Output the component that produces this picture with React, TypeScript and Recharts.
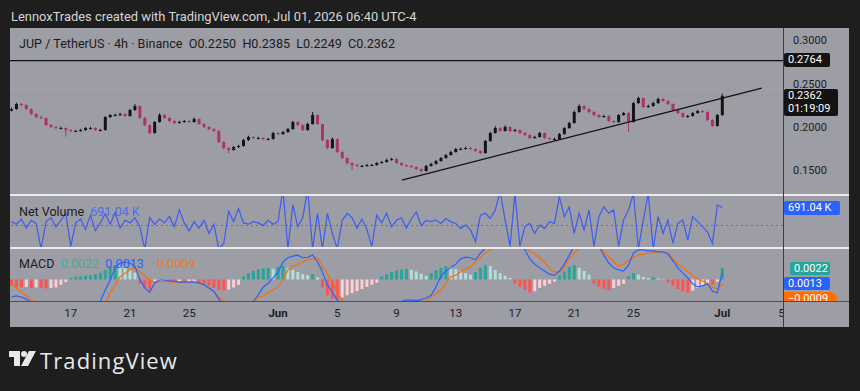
import React from 'react';
import { ComposedChart, Bar, Line, XAxis, YAxis, ReferenceLine, Cell } from 'recharts';

// ---------- DATA (8h bars, index 0 = May 13 00:00, 3 bars per day) ----------
const closes = [
  0.2207,0.2265,0.2253,0.2207,0.2150,0.2115,0.2104,0.2023,0.2000,0.1988,
  0.1988,0.1965,0.1954,0.1954,0.1965,0.1988,0.1988,0.1965,0.1965,0.2115,
  0.2138,0.2138,0.2150,0.2127,0.2196,0.2242,0.2104,0.2023,0.1931,0.2058,
  0.2138,0.2104,0.2069,0.2046,0.2058,0.2069,0.2058,0.2092,0.2035,0.2000,
  0.1977,0.1954,0.1827,0.1758,0.1735,0.1770,0.1781,0.1850,0.1885,0.1873,
  0.1873,0.1862,0.1862,0.1931,0.1919,0.1942,0.1977,0.2058,0.2023,0.1965,
  0.2035,0.2138,0.2035,0.1850,0.1758,0.1862,0.1712,0.1643,0.1585,0.1562,
  0.1551,0.1551,0.1562,0.1562,0.1585,0.1597,0.1620,0.1631,0.1585,0.1562,
  0.1551,0.1539,0.1516,0.1493,0.1551,0.1574,0.1608,0.1643,0.1677,0.1712,
  0.1747,0.1747,0.1758,0.1747,0.1724,0.1700,0.1839,0.1931,0.1988,0.1954,
  0.2000,0.1954,0.1965,0.1931,0.1908,0.1873,0.1885,0.1931,0.1873,0.1862,
  0.1862,0.1919,0.1988,0.2046,0.2173,0.2242,0.2207,0.2173,0.2138,0.2115,
  0.2127,0.2069,0.2058,0.2138,0.2161,0.2058,0.2276,0.2334,0.2230,0.2242,
  0.2276,0.2323,0.2300,0.2265,0.2196,0.2161,0.2115,0.2127,0.2161,0.2184,
  0.2173,0.2081,0.2012,0.2138,0.2362,
];
const firstOpen = 0.2190;
const highs = [
  0.2225,0.2280,0.2278,0.2262,0.2215,0.2160,0.2130,0.2110,0.2035,0.2012,
  0.2005,0.1995,0.1975,0.1968,0.1980,0.2000,0.2002,0.1995,0.1978,0.2125,
  0.2150,0.2155,0.2165,0.2160,0.2210,0.2265,0.2250,0.2115,0.2030,0.2070,
  0.2160,0.2150,0.2115,0.2080,0.2072,0.2082,0.2078,0.2110,0.2100,0.2045,
  0.2010,0.1985,0.1962,0.1835,0.1770,0.1782,0.1795,0.1865,0.1900,0.1895,
  0.1888,0.1882,0.1875,0.1945,0.1942,0.1955,0.1990,0.2072,0.2068,0.2030,
  0.2050,0.2175,0.2145,0.2040,0.1860,0.1880,0.1870,0.1720,0.1650,0.1595,
  0.1575,0.1565,0.1575,0.1575,0.1598,0.1610,0.1635,0.1645,0.1640,0.1595,
  0.1572,0.1562,0.1548,0.1525,0.1562,0.1588,0.1620,0.1655,0.1690,0.1728,
  0.1760,0.1765,0.1772,0.1768,0.1755,0.1732,0.1850,0.1945,0.2010,0.1998,
  0.2020,0.2008,0.1980,0.1972,0.1942,0.1915,0.1898,0.1945,0.1938,0.1882,
  0.1878,0.1932,0.2000,0.2060,0.2190,0.2262,0.2255,0.2218,0.2182,0.2148,
  0.2140,0.2135,0.2080,0.2150,0.2175,0.2170,0.2290,0.2350,0.2340,0.2258,
  0.2292,0.2340,0.2335,0.2310,0.2272,0.2205,0.2170,0.2140,0.2175,0.2198,
  0.2195,0.2180,0.2090,0.2150,0.2385,
];
const lows = [
  0.2180,0.2200,0.2240,0.2195,0.2140,0.2100,0.2090,0.2010,0.1990,0.1975,
  0.1975,0.1890,0.1940,0.1942,0.1945,0.1958,0.1975,0.1955,0.1952,0.1960,
  0.2105,0.2125,0.2128,0.2115,0.2120,0.2185,0.2095,0.2010,0.1915,0.1925,
  0.2050,0.2095,0.2060,0.2035,0.2038,0.2050,0.2048,0.2050,0.2025,0.1990,
  0.1965,0.1940,0.1815,0.1745,0.1700,0.1728,0.1760,0.1775,0.1840,0.1862,
  0.1860,0.1850,0.1848,0.1855,0.1908,0.1910,0.1935,0.1970,0.2012,0.1955,
  0.1958,0.2028,0.2025,0.1838,0.1745,0.1750,0.1700,0.1630,0.1570,0.1505,
  0.1540,0.1538,0.1542,0.1550,0.1555,0.1578,0.1590,0.1612,0.1575,0.1552,
  0.1540,0.1528,0.1505,0.1475,0.1488,0.1545,0.1568,0.1600,0.1635,0.1670,
  0.1705,0.1735,0.1740,0.1738,0.1715,0.1690,0.1695,0.1830,0.1925,0.1945,
  0.1948,0.1942,0.1945,0.1920,0.1898,0.1862,0.1865,0.1878,0.1865,0.1850,
  0.1852,0.1855,0.1912,0.1980,0.2040,0.2165,0.2198,0.2162,0.2128,0.2105,
  0.2108,0.2060,0.2048,0.2050,0.2130,0.1942,0.2050,0.2268,0.2220,0.2222,
  0.2235,0.2268,0.2290,0.2255,0.2185,0.2150,0.2105,0.2108,0.2120,0.2155,
  0.2165,0.2070,0.2000,0.2005,0.2130,
];
// Net volume, in millions
const netVolume = [
  0.15,0.05,0.25,-0.10,0.20,0.08,-0.90,0.15,0.30,-0.05,
  0.20,0.47,-0.80,0.10,0.25,-0.15,0.40,-0.20,0.10,0.45,
  0.05,0.50,-0.10,0.20,0.10,0.30,-0.05,-0.90,0.30,0.05,
  0.25,0.10,0.35,-0.05,0.60,0.10,-0.20,0.15,-0.10,0.20,
  -0.30,0.05,-0.90,-0.70,0.55,0.15,0.65,0.10,0.05,0.15,
  0.10,0.00,0.20,0.05,0.15,1.40,-0.90,0.80,-0.05,0.30,
  1.40,-0.90,0.47,-0.90,0.47,-0.30,-0.90,0.20,0.47,0.30,
  -0.10,0.25,-0.15,-0.80,0.40,0.10,0.47,-0.05,0.20,0.30,
  -0.10,0.25,0.53,0.00,0.20,0.15,0.21,0.08,0.27,0.15,
  0.08,-0.11,0.02,-0.17,-0.62,0.40,0.47,0.27,0.60,1.30,
  0.21,-0.80,1.24,-0.80,-0.04,0.08,-0.30,0.02,-0.11,0.15,
  0.08,1.11,0.34,0.72,-0.30,0.47,-0.17,0.60,-0.80,0.34,
  0.72,0.47,0.60,-0.80,0.21,0.60,1.24,-0.90,0.21,1.24,
  -0.90,0.34,-0.30,0.21,-0.69,0.08,0.21,-0.56,0.34,0.15,
  -0.04,-0.24,-0.69,0.79,0.691,
];
const macdLine = [
  -0.0033,-0.0031,-0.0033,-0.0037,-0.0044,-0.0050,-0.0055,-0.0060,-0.0064,-0.0066,
  -0.0067,-0.0067,-0.0066,-0.0064,-0.0061,-0.0057,-0.0053,-0.0049,-0.0041,-0.0020,
  -0.0001,0.0022,0.0031,0.0033,0.0031,0.0025,0.0001,-0.0016,-0.0024,-0.0007,
  -0.0001,-0.0001,-0.0003,-0.0003,-0.0005,-0.0005,-0.0005,-0.0005,-0.0007,-0.0010,
  -0.0016,-0.0022,-0.0037,-0.0048,-0.0058,-0.0063,-0.0064,-0.0060,-0.0050,-0.0041,
  -0.0029,-0.0014,-0.0007,0.0003,0.0014,0.0033,0.0041,0.0044,0.0046,0.0041,
  0.0042,0.0046,0.0033,0.0014,-0.0010,-0.0024,-0.0039,-0.0048,-0.0056,-0.0063,
  -0.0068,-0.0070,-0.0070,-0.0068,-0.0065,-0.0061,-0.0057,-0.0052,-0.0045,-0.0041,
  -0.0039,-0.0039,-0.0040,-0.0038,-0.0035,-0.0030,-0.0014,0.0007,0.0016,0.0022,
  0.0029,0.0039,0.0042,0.0041,0.0037,0.0050,0.0059,0.0068,0.0076,0.0080,
  0.0082,0.0078,0.0070,0.0065,0.0056,0.0039,0.0029,0.0022,0.0016,0.0010,
  0.0008,0.0016,0.0029,0.0046,0.0063,0.0075,0.0080,0.0078,0.0072,0.0064,
  0.0046,0.0031,0.0022,0.0018,0.0016,0.0027,0.0050,0.0056,0.0056,0.0054,
  0.0054,0.0052,0.0052,0.0048,0.0035,0.0022,0.0012,0.0003,-0.0008,-0.0014,
  -0.0012,-0.0008,-0.0022,-0.0025,0.0013,
];
const signalLine = [
  -0.0007,-0.0016,-0.0024,-0.0031,-0.0039,-0.0043,-0.0046,-0.0049,-0.0052,-0.0055,
  -0.0057,-0.0059,-0.0060,-0.0061,-0.0061,-0.0060,-0.0058,-0.0056,-0.0052,-0.0045,
  -0.0025,-0.0010,0.0005,0.0012,0.0018,0.0022,0.0014,0.0007,-0.0001,-0.0005,
  -0.0004,-0.0003,-0.0004,-0.0005,-0.0005,-0.0005,-0.0005,-0.0005,-0.0006,-0.0010,
  -0.0016,-0.0024,-0.0033,-0.0040,-0.0046,-0.0050,-0.0053,-0.0052,-0.0047,-0.0040,
  -0.0034,-0.0031,-0.0025,-0.0020,-0.0014,-0.0001,0.0018,0.0025,0.0029,0.0033,
  0.0037,0.0039,0.0041,0.0025,0.0010,-0.0005,-0.0024,-0.0039,-0.0045,-0.0051,
  -0.0056,-0.0060,-0.0063,-0.0064,-0.0064,-0.0063,-0.0061,-0.0058,-0.0055,-0.0052,
  -0.0050,-0.0047,-0.0045,-0.0043,-0.0041,-0.0033,-0.0027,-0.0020,-0.0007,0.0005,
  0.0008,0.0014,0.0020,0.0024,0.0033,0.0042,0.0050,0.0056,0.0062,0.0067,
  0.0070,0.0071,0.0069,0.0064,0.0059,0.0054,0.0048,0.0041,0.0033,0.0020,
  0.0014,0.0014,0.0024,0.0039,0.0050,0.0059,0.0064,0.0067,0.0066,0.0062,
  0.0052,0.0042,0.0033,0.0025,0.0029,0.0037,0.0042,0.0046,0.0048,0.0050,
  0.0050,0.0052,0.0052,0.0050,0.0039,0.0029,0.0022,0.0016,0.0007,0.0001,
  -0.0003,-0.0007,-0.0014,-0.0018,-0.0009,
];
const histogram = [
  -0.0012,-0.0014,-0.0015,-0.0014,-0.0016,-0.0015,-0.0016,-0.0017,-0.0016,-0.0015,
  -0.0010,-0.0005,0.0003,0.0005,0.0006,0.0007,0.0008,0.0010,0.0012,0.0018,
  0.0024,0.0027,0.0026,0.0022,0.0018,0.0013,-0.0008,-0.0016,-0.0020,-0.0004,
  -0.0003,-0.0002,-0.0004,-0.0005,-0.0004,-0.0006,-0.0005,-0.0004,-0.0006,-0.0009,
  -0.0012,-0.0016,-0.0020,-0.0021,-0.0019,-0.0015,-0.0010,0.0006,0.0012,0.0016,
  0.0019,0.0021,0.0022,0.0020,0.0024,0.0026,0.0022,0.0018,0.0014,0.0010,
  0.0008,0.0010,0.0004,-0.0015,-0.0030,-0.0036,-0.0038,-0.0034,-0.0030,-0.0026,
  -0.0022,-0.0018,-0.0014,-0.0010,-0.0006,0.0006,0.0010,0.0014,0.0017,0.0019,
  0.0020,0.0018,0.0015,0.0011,0.0007,0.0012,0.0018,0.0022,0.0025,0.0023,
  0.0020,0.0016,0.0012,0.0009,0.0014,0.0022,0.0027,0.0025,0.0018,0.0012,
  0.0007,0.0003,-0.0008,-0.0014,-0.0020,-0.0025,-0.0022,-0.0016,-0.0012,-0.0008,
  -0.0004,0.0008,0.0015,0.0024,0.0027,0.0022,0.0016,0.0009,-0.0008,-0.0014,
  -0.0018,-0.0020,-0.0016,-0.0012,-0.0008,0.0006,0.0012,0.0009,0.0005,0.0003,
  0.0004,0.0002,0.0001,-0.0006,-0.0012,-0.0018,-0.0022,-0.0025,-0.0021,-0.0016,
  -0.0012,-0.0008,-0.0010,-0.0004,0.0022,
];
// x-axis ticks (bar index of each date) and their labels
const tickIdx = [12, 24, 36, 54, 66, 78, 90, 102, 114, 126, 144, 156];
const tickLabels = ['17', '21', '25', 'Jun', '5', '9', '13', '17', '21', '25', 'Jul', '5'];
const priceTicks = [0.15, 0.2, 0.25, 0.3];
const resistanceLevel = 0.2764;
const lastPrice = 0.2362;
const trendStart = { i: 79.1, p: 0.1389 };
const trendEnd = { i: 152, p: 0.2449 };

// ---------- STYLE ----------
const FONT = 'Roboto, "Noto Sans", sans-serif';
const DARK = '#1e1e1e';
const PANE = '#9c9da5';
const UP = '#141414';
const DOWN = '#ab336a';
const BLUE = '#2962ff';
const ORANGE = '#ff6d00';
const TEAL = '#26a69a';
const X_DOMAIN: [number, number] = [-0.3, 156.3];
const W = 839;
const AXIS_W = 66;

const rows = closes.map((c, i) => {
  const o = i === 0 ? firstOpen : closes[i - 1];
  return {
    i,
    open: o,
    close: c,
    high: Math.max(highs[i], o, c),
    low: Math.min(lows[i], o, c),
    nv: netVolume[i],
    macd: macdLine[i],
    signal: signalLine[i],
    hist: histogram[i],
  };
});

const histColor = (i: number) => {
  const h = histogram[i];
  const prev = i > 0 ? histogram[i - 1] : h;
  if (h >= 0) return prev < h ? TEAL : '#b2dfdb';
  return prev < h ? '#ffcdd2' : '#ff5252';
};

const Candle = (props: any) => {
  const { x, y, width, height, payload } = props;
  if (x == null || y == null || !payload) return null;
  const { open, close, high, low } = payload;
  const top = Math.min(y, y + height);
  const h = Math.abs(height);
  const span = high - low || 1e-9;
  const yOf = (v: number) => top + ((high - v) / span) * h;
  const color = close >= open ? UP : DOWN;
  const cx = x + width / 2;
  const bTop = yOf(Math.max(open, close));
  const bBot = yOf(Math.min(open, close));
  return (
    <g>
      <line x1={cx} x2={cx} y1={top} y2={top + h} stroke={color} strokeWidth={1} />
      <rect x={x} y={bTop} width={width} height={Math.max(1, bBot - bTop)} fill={color} />
    </g>
  );
};

const PriceTick = (props: any) => {
  const { y, payload } = props;
  return (
    <text x={W - AXIS_W + 10} y={y} dy={4} fontSize={11} fill="#1c1c1c" fontFamily={FONT}>
      {payload.value.toFixed(4)}
    </text>
  );
};

const NvTick = (props: any) => {
  const { y } = props;
  return (
    <text x={W - AXIS_W + 10} y={y} dy={3} fontSize={11} fill="#1c1c1c" fontFamily={FONT}>
      1 M
    </text>
  );
};

const MacdTick = (props: any) => {
  const { y, payload } = props;
  return (
    <text x={W - AXIS_W + 10} y={y} dy={4} fontSize={11} fill="#1c1c1c" fontFamily={FONT}>
      {payload.value.toFixed(4)}
    </text>
  );
};

const XTick = (props: any) => {
  const { x, payload } = props;
  const k = tickIdx.indexOf(payload.value);
  const label = tickLabels[k];
  const bold = label === 'Jun' || label === 'Jul';
  return (
    <text x={x} y={69} textAnchor="middle" fontSize={11.5} fontWeight={bold ? 700 : 400} fill="#1c1c1c" fontFamily={FONT}>
      {label}
    </text>
  );
};

const abs = (left: number, top: number, extra: React.CSSProperties = {}): React.CSSProperties => ({
  position: 'absolute',
  left,
  top,
  ...extra,
});

const Badge = ({ left, top, w, h, bg, children, radius = 2 }: any) => (
  <div
    style={abs(left, top, {
      width: w,
      height: h,
      background: bg,
      color: '#fff',
      fontSize: 11,
      fontFamily: FONT,
      lineHeight: '13px',
      paddingLeft: 4,
      boxSizing: 'border-box',
      borderRadius: radius,
      overflow: 'hidden',
      whiteSpace: 'nowrap',
    })}
  >
    {children}
  </div>
);

export default function App() {
  return (
    <div style={abs(0, 0, { width: 860, height: 391, background: DARK, overflow: 'hidden', fontFamily: FONT })}>
      <div style={abs(11, 9, { fontSize: 12.9, color: '#d6d6d6', whiteSpace: 'nowrap' })}>
        LennoxTrades created with TradingView.com, Jul 01, 2026 06:40 UTC-4
      </div>

      <div style={abs(10, 28, { width: W, height: 299, background: PANE })} />

      {/* price pane */}
      <div style={abs(10, 28)}>
        <ComposedChart width={W} height={167} data={rows} margin={{ top: 0, right: 0, bottom: 0, left: 0 }}>
          <XAxis dataKey="i" type="number" domain={X_DOMAIN} allowDataOverflow hide />
          <YAxis
            orientation="right"
            width={AXIS_W}
            domain={[0.1217, 0.3141]}
            ticks={priceTicks}
            allowDataOverflow
            axisLine={false}
            tickLine={false}
            tick={<PriceTick />}
          />
          <ReferenceLine y={lastPrice} stroke="#b5607f" strokeDasharray="1 3" strokeOpacity={0.7} />
          <ReferenceLine y={resistanceLevel} stroke="#111" strokeWidth={1.2} />
          <ReferenceLine
            segment={[{ x: trendStart.i, y: trendStart.p }, { x: trendEnd.i, y: trendEnd.p }]}
            stroke="#111"
            strokeWidth={1.2}
          />
          <Bar dataKey={(d: any) => [d.low, d.high]} barSize={3} shape={<Candle />} isAnimationActive={false} />
        </ComposedChart>
      </div>

      {/* net volume pane */}
      <div style={abs(10, 195)}>
        <ComposedChart width={W} height={53} data={rows} margin={{ top: 0, right: 0, bottom: 0, left: 0 }}>
          <XAxis dataKey="i" type="number" domain={X_DOMAIN} allowDataOverflow hide />
          <YAxis
            orientation="right"
            width={AXIS_W}
            domain={[-0.865, 1.173]}
            ticks={[1]}
            allowDataOverflow
            axisLine={false}
            tickLine={false}
            tick={<NvTick />}
          />
          <ReferenceLine y={0} stroke="#6f7078" strokeDasharray="2 3" />
          <Line type="linear" dataKey="nv" stroke="#3d5cf0" strokeWidth={1.2} dot={false} isAnimationActive={false} />
        </ComposedChart>
      </div>

      {/* MACD pane + x axis */}
      <div style={abs(10, 248)}>
        <ComposedChart width={W} height={79} data={rows} margin={{ top: 0, right: 0, bottom: 0, left: 0 }}>
          <XAxis
            dataKey="i"
            type="number"
            domain={X_DOMAIN}
            allowDataOverflow
            ticks={tickIdx}
            height={26}
            axisLine={false}
            tickLine={false}
            tick={<XTick />}
            interval={0}
          />
          <YAxis
            orientation="right"
            width={AXIS_W}
            domain={[-0.00406, 0.00594]}
            ticks={[0.005]}
            allowDataOverflow
            axisLine={false}
            tickLine={false}
            tick={<MacdTick />}
          />
          <Bar dataKey="hist" barSize={3} isAnimationActive={false}>
            {rows.map((r) => (
              <Cell key={r.i} fill={histColor(r.i)} />
            ))}
          </Bar>
          <Line type="linear" dataKey="signal" stroke={ORANGE} strokeWidth={1.2} dot={false} isAnimationActive={false} />
          <Line type="linear" dataKey="macd" stroke={BLUE} strokeWidth={1.2} dot={false} isAnimationActive={false} />
        </ComposedChart>
      </div>

      {/* pane separators and borders */}
      <div style={abs(10, 194, { width: W, height: 1.5, background: '#ececec' })} />
      <div style={abs(10, 247, { width: W, height: 1.5, background: '#ececec' })} />
      <div style={abs(10, 301, { width: W, height: 1, background: '#4e4f55' })} />
      <div style={abs(784, 302, { width: 65, height: 25, background: PANE })} />
      <div style={abs(783, 28, { width: 1, height: 299, background: '#3c3d42' })} />

      {/* legends */}
      <div style={abs(19, 36, { fontSize: 12.6, color: '#1c1c1c', whiteSpace: 'nowrap' })}>
        JUP / TetherUS · 4h · Binance&nbsp;&nbsp;O0.2250&nbsp;&nbsp;H0.2385&nbsp;&nbsp;L0.2249&nbsp;&nbsp;C0.2362
      </div>
      <div style={abs(19, 204, { fontSize: 12.5, color: '#1c1c1c', whiteSpace: 'nowrap' })}>
        Net Volume&nbsp;&nbsp;<span style={{ color: '#4a6cf7' }}>691.04 K</span>
      </div>
      <div style={abs(19, 256, { fontSize: 12.5, color: '#1c1c1c', whiteSpace: 'nowrap' })}>
        MACD&nbsp;&nbsp;<span style={{ color: '#3fae9f' }}>0.0022</span>&nbsp;&nbsp;
        <span style={{ color: BLUE }}>0.0013</span>&nbsp;&nbsp;
        <span style={{ color: '#f07a2a' }}>−0.0009</span>
      </div>

      {/* axis badges */}
      <Badge left={784} top={53} w={46} h={14} bg="#131313">0.2764</Badge>
      <Badge left={784} top={89} w={54} h={27} bg="#131313">
        0.2362
        <br />
        01:19:09
      </Badge>
      <Badge left={784} top={201} w={56} h={14} bg={BLUE}>691.04 K</Badge>
      <Badge left={790} top={262} w={40} h={13} bg={TEAL}>0.0022</Badge>
      <Badge left={784} top={277} w={46} h={13} bg={BLUE}>0.0013</Badge>
      <div style={abs(784, 292, { width: 53, height: 9, overflow: 'hidden' })}>
        <div
          style={{
            width: 53,
            height: 14,
            background: ORANGE,
            color: '#fff',
            fontSize: 11,
            lineHeight: '14px',
            paddingLeft: 4,
            boxSizing: 'border-box',
            borderRadius: '0 7px 7px 0',
          }}
        >
          −0.0009
        </div>
      </div>

      {/* footer logo */}
      <svg style={abs(8, 349)} width={32} height={20}>
        <path d="M1 2 H12 V17 H6 V8 H1 Z" fill="#e8e8e8" />
        <circle cx={16} cy={5} r={3} fill="#e8e8e8" />
        <path d="M21 2 H28 L20 17 H13 Z" fill="#e8e8e8" />
      </svg>
      <div style={abs(40, 345, { fontSize: 22, fontWeight: 500, color: '#e8e8e8', fontFamily: '"Open Sans", Roboto, sans-serif', letterSpacing: 1.1 })}>
        TradingView
      </div>
    </div>
  );
}
